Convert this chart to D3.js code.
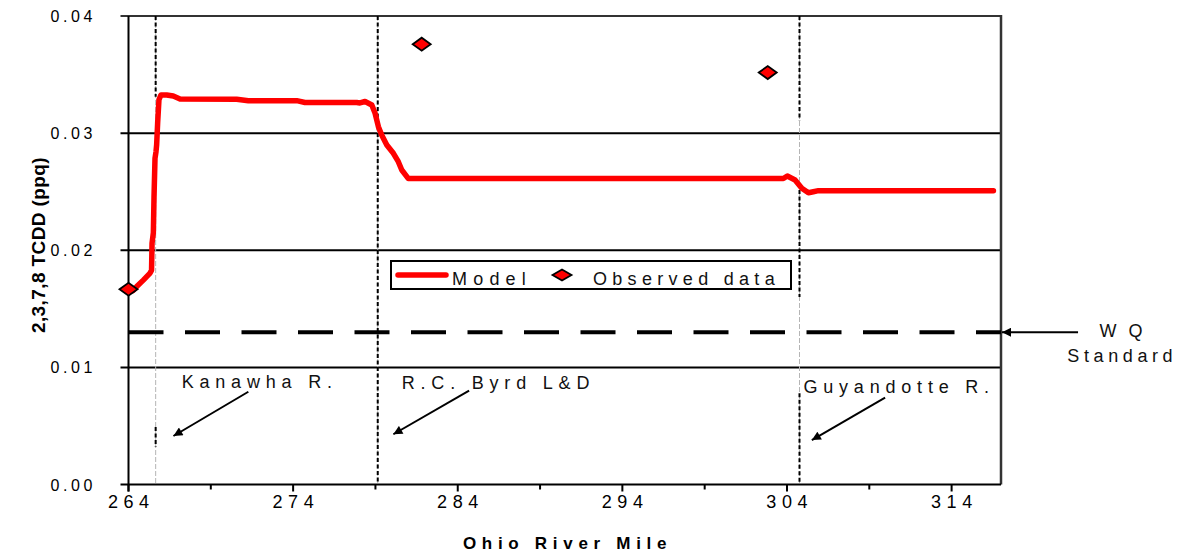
<!DOCTYPE html>
<html>
<head>
<meta charset="utf-8">
<script src="https://cdn.jsdelivr.net/npm/d3@7"></script>
<style>
  html, body { margin: 0; padding: 0; background: #fff; }
  svg { display: block; font-family: Arial, "Liberation Sans", sans-serif; }
</style>
</head>
<body>
<svg id="chart" width="1180" height="558"></svg>
<script>
// ---------- DATA ----------
const xMajorTicks = [264, 274, 284, 294, 304, 314];
const xMinorTicks = [269, 279, 289, 299, 309];
const yTicks = [0.00, 0.01, 0.02, 0.03, 0.04];

// Model profile (river mile, concentration ppq)
const modelMile = [264.27, 264.50, 264.90, 265.31, 265.40, 265.43, 265.51, 265.55, 265.61, 265.67, 265.71, 265.77, 265.85, 265.97,
  266.32, 266.72, 267.13, 270.57, 271.28, 274.22, 274.72, 277.86, 278.06, 278.37, 278.78, 278.98, 279.18, 279.38, 279.69,
  280.09, 280.39, 280.60, 281.00, 303.78, 304.02, 304.49, 304.90, 305.30, 305.60, 305.91, 316.54];
const modelValue = [0.01655, 0.01690, 0.01745, 0.01805, 0.01830, 0.02060, 0.02150, 0.02455, 0.02785, 0.02840, 0.02900, 0.03085, 0.03285, 0.03326,
  0.03326, 0.03317, 0.03292, 0.03290, 0.03277, 0.03277, 0.03262, 0.03262, 0.03258, 0.03270, 0.03240, 0.03169, 0.03055, 0.02984, 0.02899,
  0.02828, 0.02756, 0.02685, 0.02612, 0.02612, 0.02634, 0.02600, 0.02529, 0.02491, 0.02500, 0.02509, 0.02509];

// Observed data
const obsMile = [264.0, 281.81, 302.83];
const obsValue = [0.01667, 0.03759, 0.03517];

// Water quality standard
const wqStandard = 0.013;

// River features (vertical reference lines)
const featureNames = ["Kanawha R.", "R.C. Byrd L&D", "Guyandotte R."];
const featureMile = [265.65, 279.14, 304.76];
// black dashed portions of each reference line, as [upper value, lower value]
const featureBlackSpans = [
  [[0.0400, 0.0331], [0.0049, 0.0032]],
  [[0.0400, 0.0000]],
  [[0.0400, 0.0311], [0.0257, 0.0160], [0.0078, 0.0000]]
];
// label anchor (mile, value) and arrow (from mile/value -> to mile/value)
const labelMile = [267.23, 280.60, 305.00];
const labelValue = [0.00821, 0.00815, 0.00779];
const arrowFrom = [[271.28, 0.00792], [284.69, 0.00801], [309.96, 0.00741]];
const arrowTo = [[266.73, 0.00414], [280.09, 0.00429], [305.51, 0.00379]];

const xTitle = "Ohio River Mile";
const yTitle = "2,3,7,8 TCDD (ppq)";
const legendLabels = ["Model", "Observed data"];
const wqLabel = ["W Q", "Standard"];

// ---------- LAYOUT ----------
const W = 1180, H = 558;
const plot = { left: 128.5, right: 1001, top: 16, bottom: 484.5 };

const svg = d3.select("#chart");
const x = d3.scaleLinear().domain([264, 317]).range([plot.left, plot.right]);
const y = d3.scaleLinear().domain([0, 0.04]).range([plot.bottom, plot.top]);

const defs = svg.append("defs");
defs.append("marker")
  .attr("id", "arrowhead")
  .attr("viewBox", "0 0 10 10")
  .attr("refX", 10).attr("refY", 5)
  .attr("markerWidth", 11).attr("markerHeight", 9)
  .attr("markerUnits", "userSpaceOnUse")
  .attr("orient", "auto")
  .append("path").attr("d", "M0,0 L10,5 L0,10 Z").attr("fill", "#000");

// horizontal gridlines (with tick extension to the left)
const gridG = svg.append("g");
yTicks.forEach(v => {
  if (v === 0) return;
  gridG.append("line")
    .attr("x1", plot.left - 8).attr("x2", plot.right)
    .attr("y1", y(v)).attr("y2", y(v))
    .attr("stroke", v === 0.04 ? "#333" : "#000")
    .attr("stroke-width", 2);
});

// right border
svg.append("line")
  .attr("x1", plot.right).attr("x2", plot.right)
  .attr("y1", plot.top - 1).attr("y2", plot.bottom)
  .attr("stroke", "#333").attr("stroke-width", 2.5);

// reference vertical lines (thin grey full length + black dashed spans)
featureMile.forEach((m, i) => {
  svg.append("line")
    .attr("x1", x(m)).attr("x2", x(m))
    .attr("y1", y(0.04)).attr("y2", y(0))
    .attr("stroke", "#b5b5b5").attr("stroke-width", 1)
    .attr("stroke-dasharray", "5,2");
  featureBlackSpans[i].forEach(s => {
    svg.append("line")
      .attr("x1", x(m)).attr("x2", x(m))
      .attr("y1", y(s[0])).attr("y2", y(s[1]))
      .attr("stroke", "#000").attr("stroke-width", 2)
      .attr("stroke-dasharray", "4,2.5");
  });
});

// WQ standard dashed line
svg.append("line")
  .attr("x1", x(264)).attr("x2", plot.right)
  .attr("y1", y(wqStandard)).attr("y2", y(wqStandard))
  .attr("stroke", "#000").attr("stroke-width", 4)
  .attr("stroke-dasharray", "35,21.5");

// axes lines
svg.append("line")
  .attr("x1", plot.left).attr("x2", plot.left)
  .attr("y1", plot.top).attr("y2", plot.bottom + 7)
  .attr("stroke", "#000").attr("stroke-width", 2);
svg.append("line")
  .attr("x1", plot.left - 8).attr("x2", plot.right)
  .attr("y1", plot.bottom).attr("y2", plot.bottom)
  .attr("stroke", "#000").attr("stroke-width", 2);

// x ticks
xMajorTicks.forEach(t => {
  svg.append("line").attr("x1", x(t)).attr("x2", x(t))
    .attr("y1", plot.bottom).attr("y2", plot.bottom + 7)
    .attr("stroke", "#000").attr("stroke-width", 2);
});
xMinorTicks.forEach(t => {
  svg.append("line").attr("x1", x(t)).attr("x2", x(t))
    .attr("y1", plot.bottom).attr("y2", plot.bottom + 5)
    .attr("stroke", "#000").attr("stroke-width", 2);
});

// x tick labels
svg.append("g").selectAll("text").data(xMajorTicks).join("text")
  .attr("x", d => x(d) + 2.8)
  .attr("y", 508)
  .attr("text-anchor", "middle")
  .attr("font-size", 18)
  .attr("letter-spacing", 5.6)
  .attr("fill", "#000")
  .text(d => d);

// y tick labels
const fmt = d3.format(".2f");
svg.append("g").selectAll("text").data(yTicks).join("text")
  .attr("x", 96)
  .attr("y", d => y(d) + 6)
  .attr("text-anchor", "end")
  .attr("font-size", 16)
  .attr("letter-spacing", 3.6)
  .attr("fill", "#000")
  .text(d => fmt(d));

// axis titles
svg.append("text")
  .attr("x", (plot.left + plot.right) / 2 + 2.8)
  .attr("y", 549)
  .attr("text-anchor", "middle")
  .attr("font-size", 17)
  .attr("font-weight", "bold")
  .attr("letter-spacing", 5.7)
  .text(xTitle);

svg.append("text")
  .attr("transform", "translate(45,245) rotate(-90)")
  .attr("text-anchor", "middle")
  .attr("font-size", 19)
  .attr("font-weight", "bold")
  .attr("letter-spacing", 0.4)
  .text(yTitle);

// feature labels and arrows
featureNames.forEach((name, i) => {
  svg.append("text")
    .attr("x", x(labelMile[i]))
    .attr("y", y(labelValue[i]))
    .attr("font-size", 18)
    .attr("letter-spacing", 5.8)
    .attr("fill", "#111")
    .text(name);
  svg.append("line")
    .attr("x1", x(arrowFrom[i][0])).attr("y1", y(arrowFrom[i][1]))
    .attr("x2", x(arrowTo[i][0])).attr("y2", y(arrowTo[i][1]))
    .attr("stroke", "#000").attr("stroke-width", 2)
    .attr("marker-end", "url(#arrowhead)");
});

// WQ Standard label + arrow
svg.append("line")
  .attr("x1", x(321.68)).attr("y1", y(wqStandard))
  .attr("x2", plot.right + 1).attr("y2", y(wqStandard))
  .attr("stroke", "#000").attr("stroke-width", 2)
  .attr("marker-end", "url(#arrowhead)");
svg.append("text")
  .attr("x", 1121 + 1.7).attr("y", 337)
  .attr("text-anchor", "middle").attr("font-size", 18)
  .attr("letter-spacing", 3.5).attr("fill", "#111")
  .text(wqLabel[0]);
svg.append("text")
  .attr("x", 1120 + 2.3).attr("y", 361.5)
  .attr("text-anchor", "middle").attr("font-size", 18)
  .attr("letter-spacing", 4.6).attr("fill", "#111")
  .text(wqLabel[1]);

// model line
const modelData = modelMile.map((m, i) => [m, modelValue[i]]);
svg.append("path")
  .datum(modelData)
  .attr("d", d3.line().x(d => x(d[0])).y(d => y(d[1])))
  .attr("fill", "none")
  .attr("stroke", "#ff0000")
  .attr("stroke-width", 5.5)
  .attr("stroke-linejoin", "round")
  .attr("stroke-linecap", "round");

// observed diamonds
const diamond = (cx, cy, w, h) => `M${cx - w / 2},${cy} L${cx},${cy - h / 2} L${cx + w / 2},${cy} L${cx},${cy + h / 2} Z`;
obsMile.forEach((m, i) => {
  svg.append("path")
    .attr("d", diamond(x(m), y(obsValue[i]), 18, 13))
    .attr("fill", "#ff0000")
    .attr("stroke", "#000")
    .attr("stroke-width", 1.8);
});

// legend
const lg = svg.append("g");
lg.append("rect")
  .attr("x", 391).attr("y", 261).attr("width", 400).attr("height", 28)
  .attr("fill", "#fff").attr("stroke", "#000").attr("stroke-width", 2);
lg.append("line")
  .attr("x1", 398).attr("x2", 446).attr("y1", 275).attr("y2", 275)
  .attr("stroke", "#ff0000").attr("stroke-width", 5.5).attr("stroke-linecap", "round");
lg.append("text")
  .attr("x", 452).attr("y", 284.5)
  .attr("font-size", 18).attr("letter-spacing", 6.2).attr("fill", "#111")
  .text(legendLabels[0]);
lg.append("path")
  .attr("d", diamond(562, 275, 19, 11))
  .attr("fill", "#ff0000").attr("stroke", "#000").attr("stroke-width", 1.8);
lg.append("text")
  .attr("x", 593).attr("y", 284.5)
  .attr("font-size", 18).attr("letter-spacing", 5.3).attr("fill", "#111")
  .text(legendLabels[1]);
</script>
</body>
</html>
